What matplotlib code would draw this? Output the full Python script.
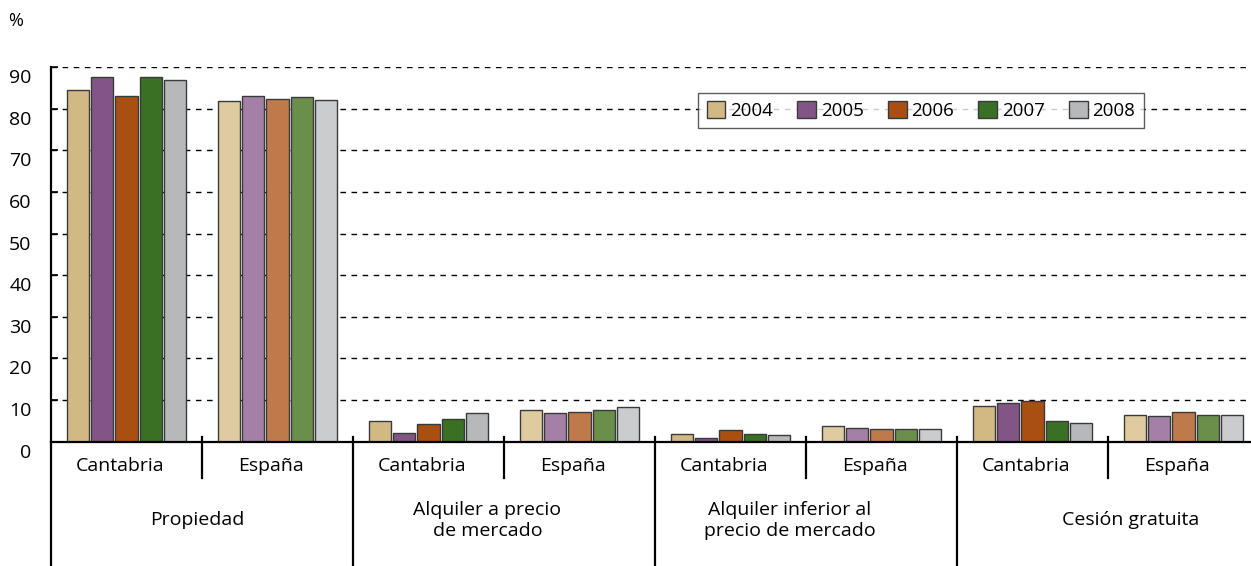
import matplotlib.pyplot as plt
import matplotlib.transforms as mtransforms
from matplotlib.patches import Patch

# =========================
# Datos
# =========================
years = ["2004", "2005", "2006", "2007", "2008"]
regions = ["Cantabria", "España"]
tenures = [
    "Propiedad",
    "Alquiler a precio\nde mercado",
    "Alquiler inferior al\nprecio de mercado",
    "Cesión gratuita",
]

# filas: régimen de tenencia, columnas: años 2004-2008
cantabria = [
    [84.4, 87.6, 83.0, 87.7, 86.8],
    [5.0, 2.2, 4.2, 5.4, 6.9],
    [1.9, 0.8, 2.7, 1.8, 1.6],
    [8.6, 9.2, 9.8, 5.0, 4.6],
]
espana = [
    [81.9, 83.0, 82.4, 82.7, 82.1],
    [7.7, 7.0, 7.2, 7.6, 8.3],
    [3.8, 3.4, 3.0, 3.0, 3.0],
    [6.5, 6.2, 7.1, 6.5, 6.4],
]

dark_colors = ["#D2B983", "#835586", "#A84F11", "#3A7024", "#B7B8BA"]
light_colors = ["#DECB9F", "#A47FA6", "#BF7A4C", "#6A8F4B", "#CBCCCE"]

plt.rcParams["font.family"] = ["Open Sans", "DejaVu Sans"]
FS = 14

# =========================
# Figura
# =========================
fig = plt.figure(figsize=(12.51, 5.66), dpi=100)
ax = fig.add_axes([51 / 1251, 1 - 441.7 / 566, 1208 / 1251, (441.7 - 67) / 566])

bar_w = 0.146
pitch = 0.160
for t in range(len(tenures)):
    for r, (vals, cols) in enumerate([(cantabria, dark_colors), (espana, light_colors)]):
        center = 2 * t + r + 0.5
        for k in range(len(years)):
            ax.bar(center + (k - 2) * pitch, vals[t][k], width=bar_w,
                   color=cols[k], edgecolor="#3a3a3a", linewidth=1.0, zorder=3)

ax.set_xlim(0, 8)
ax.set_ylim(0, 90)
ax.set_yticks(range(0, 91, 10))
ax.set_xticks([])
ax.yaxis.grid(True, linestyle=(0, (4, 4)), color="black", linewidth=1.0)
ax.set_axisbelow(True)
ax.tick_params(axis="y", direction="in", length=5, width=1.2, pad=14, labelsize=FS)
shift = mtransforms.ScaledTranslation(0, -2 / 100, fig.dpi_scale_trans)
for lab in ax.get_yticklabels():
    lab.set_va("top")
    lab.set_transform(lab.get_transform() + shift)

for s in ["top", "right"]:
    ax.spines[s].set_visible(False)
ax.spines["left"].set_linewidth(1.6)
ax.spines["bottom"].set_linewidth(1.6)
ax.spines["bottom"].set_zorder(5)

# =========================
# Eje de categorías
# =========================
xt = ax.get_xaxis_transform()
ax.plot([0, 0], [0, -0.4], transform=xt, color="black", lw=1.6, clip_on=False)
label_shift = [-0.03, -0.11, -0.11, 0.15]
for t, name in enumerate(tenures):
    # separador corto entre regiones
    ax.plot([2 * t + 1] * 2, [0.0125, -0.097], transform=xt, color="black", lw=1.6, clip_on=False)
    # separador largo entre regímenes
    ax.plot([2 * t + 2] * 2, [0.0125, -0.4], transform=xt, color="black", lw=1.6, clip_on=False)
    for r, reg in enumerate(regions):
        ax.text(2 * t + r + 0.46, -0.066, reg, transform=xt, ha="center", va="center", fontsize=FS)
    ax.text(2 * t + 1 + label_shift[t], -0.21, name, transform=xt, ha="center", va="center",
            fontsize=FS, linespacing=1.25)

fig.text(8 / 1251, 1 - 21 / 566, "%", ha="left", va="center", fontsize=FS - 1)

# =========================
# Leyenda
# =========================
handles = [Patch(facecolor=c, edgecolor="#3a3a3a", linewidth=1.0) for c in dark_colors]
leg = fig.legend(handles, years, loc="center", bbox_to_anchor=(921 / 1251, 1 - 110.5 / 566),
                 ncol=5, fontsize=13.5, frameon=True, fancybox=False, handlelength=1.0,
                 handleheight=1.0, handletextpad=0.25, columnspacing=1.3, borderpad=0.45,
                 borderaxespad=0)
leg.get_frame().set_edgecolor("#333333")
leg.get_frame().set_linewidth(1.0)

fig.savefig("out.png", dpi=100)
